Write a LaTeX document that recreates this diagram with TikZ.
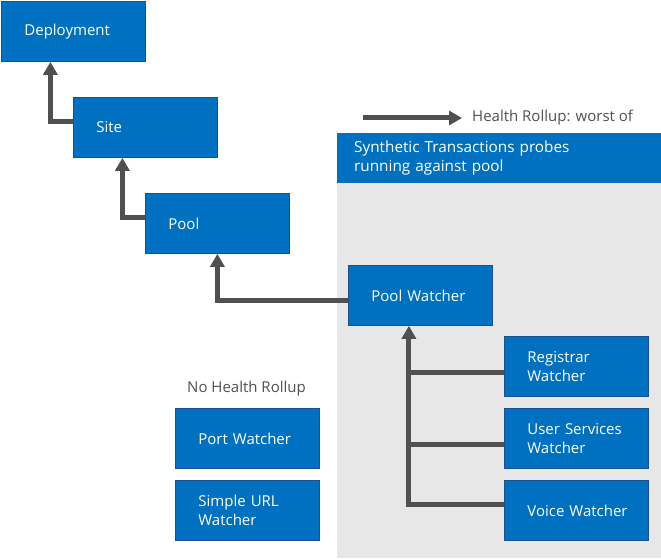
\documentclass[tikz,border=0pt]{standalone}
\usepackage{fontspec}
\setmainfont{Open Sans}
\usetikzlibrary{arrows.meta}
\definecolor{boxblue}{HTML}{0070C0}
\definecolor{boxedge}{HTML}{1F4E8C}
\definecolor{arrowgray}{HTML}{505050}
\definecolor{panelgray}{HTML}{E7E7E7}
\definecolor{labelgray}{HTML}{505050}
\tikzset{
  box/.style={draw=boxedge, line width=0.8pt, fill=boxblue, text=white,
    minimum width=144pt, minimum height=60pt, text width=98pt,
    inner xsep=23pt, inner ysep=0pt, align=left, anchor=north west,
    font=\fontsize{15}{18.5}\selectfont},
  conn/.style={draw=arrowgray, line width=5pt},
  arr/.style={conn, -{Triangle[width=14pt,length=13pt]}},
  lbl/.style={text=labelgray, inner sep=0pt, anchor=west,
    font=\fontsize{15}{18.5}\selectfont},
}
\begin{document}
\begin{tikzpicture}[x=1pt,y=-1pt]
\useasboundingbox (0,0) rectangle (661,559);
% panel
\fill[panelgray] (337,133) rectangle (661,558);
\node[fill=boxblue, text=white, anchor=north west, minimum width=324pt,
  minimum height=50pt, text width=290pt, inner xsep=16pt, inner ysep=0pt,
  align=left, font=\fontsize{15.3}{18.5}\selectfont] (hdr) at (337,133)
  {Synthetic Transactions probes\\running against pool};
% boxes
\node[box] (deploy) at (1,1) {Deployment};
\node[box] (site) at (73,97) {Site};
\node[box] (pool) at (145,193) {Pool};
\node[box] (pw) at (348,265) {Pool~Watcher};
\node[box] (reg) at (504,336) {Registrar\\Watcher};
\node[box] (us) at (504,408) {User~Services\\Watcher};
\node[box] (voice) at (504,480) {Voice~Watcher};
\node[box] (port) at (175,408) {Port~Watcher};
\node[box] (url) at (175,480) {Simple~URL\\Watcher};
% labels
\node[lbl] (nohr) at (187,389) {No Health Rollup};
\coordinate (la) at (363,118);
\coordinate (lb) at (462,118);
\draw[arr] (la) -- (lb);
\node[lbl] (hr) at (472,118) {Health Rollup: worst of};
% connectors
\draw[arr] ([yshift=6pt]site.west) -| ([xshift=-23pt]deploy.south);
\draw[arr] ([yshift=6pt]pool.west) -| ([xshift=-23pt]site.south);
\draw[arr] ([yshift=-5pt]pw.west) -| (pool.south);
\coordinate (trunk) at ([xshift=-11.5pt]pw.south);
\draw[arr] ([yshift=6pt]voice.west) -| (trunk);
\draw[conn] ([yshift=-6pt]reg.west) -- ([yshift=-6pt]reg.west -| trunk);
\draw[conn] ([yshift=-6pt]us.west) -- ([yshift=-6pt]us.west -| trunk);
\end{tikzpicture}
\end{document}
